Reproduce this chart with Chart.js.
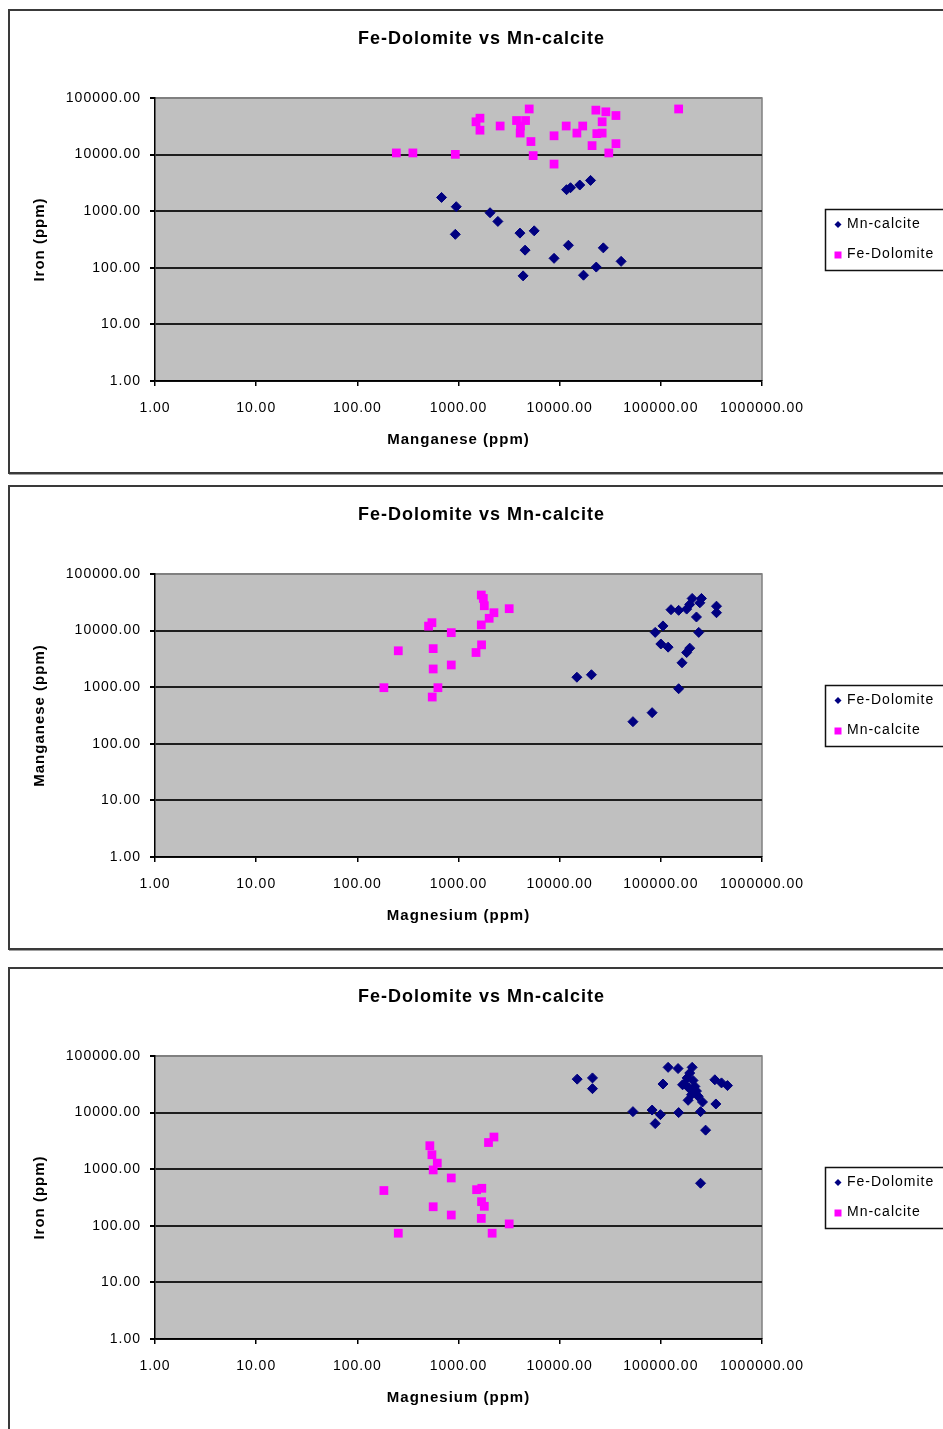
<!DOCTYPE html>
<html>
<head>
<meta charset="utf-8">
<script src="https://cdn.jsdelivr.net/npm/chart.js@4/dist/chart.umd.min.js"></script>
<style>
  html, body { margin: 0; padding: 0; background: #fff; overflow: hidden; width: 943px; height: 1429px; }
  .panel { position: absolute; left: 8px; width: 960px; height: 465px; box-sizing: border-box;
           border: 2px solid #3a3a3a; background: #fff; box-shadow: 1px 1px 0 #a0a0a0; }
  canvas { position: absolute; left: 0; }
</style>
</head>
<body>
<div class="panel" style="top:9px"></div>
<div class="panel" style="top:485px"></div>
<div class="panel" style="top:967px"></div>
<canvas id="c1" width="963" height="462" style="top:10px;width:963px;height:462px"></canvas>
<canvas id="c2" width="963" height="462" style="top:486px;width:963px;height:462px"></canvas>
<canvas id="c3" width="963" height="462" style="top:968px;width:963px;height:462px"></canvas>
<script>
// Shared text
const chartTitle = 'Fe-Dolomite vs Mn-calcite';
const xDecades = [1, 10, 100, 1000, 10000, 100000, 1000000];
const yDecades = [1, 10, 100, 1000, 10000, 100000];

// Chart 1: Manganese (x) vs Iron (y)
const c1Labels = ['Mn-calcite', 'Fe-Dolomite'];
const c1NavyMn = [20200, 15800, 12800, 11700, 680, 950, 2050, 2450, 930, 4050, 5600, 4550, 12200, 27000, 8800, 40500, 23000, 4350, 17200];
const c1NavyFe = [3500, 2900, 2600, 2400, 1750, 1200, 940, 660, 390, 410, 450, 205, 250, 225, 147, 130, 103, 72, 74];
const c1PinkMn = [5000, 22800, 28600, 150000, 36000, 26300, 1630, 1490, 1630, 2580, 3750, 4600, 4100, 4070, 5200, 8800, 11600, 14800, 16900, 23300, 26300, 20900, 36000, 30600, 243, 354, 930, 5470, 8800];
const c1PinkFe = [64000, 61000, 57000, 64000, 49000, 38000, 44000, 38000, 27000, 32000, 40000, 40000, 32000, 24000, 17000, 21500, 32000, 24000, 32000, 23500, 24000, 14400, 15600, 10700, 10700, 10700, 10100, 9600, 6800];

// Chart 2: Magnesium (x) vs Manganese (y)
const c2Labels = ['Fe-Dolomite', 'Mn-calcite'];
const c2NavyMg = [204000, 252000, 243000, 193000, 180000, 126000, 150000, 355000, 355000, 225000, 105000, 88000, 237000, 100000, 118000, 193000, 180000, 162000, 14800, 20600, 150000, 82000, 53000];
const c2NavyMn = [37000, 37000, 31000, 29000, 24000, 23400, 22800, 27000, 20700, 17400, 12100, 9300, 9300, 5800, 5100, 4900, 4100, 2700, 1500, 1660, 940, 355, 246];
const c2PinkMg = [1680, 1760, 1800, 3170, 2240, 2010, 1680, 546, 506, 848, 1690, 1490, 562, 254, 848, 562, 183, 626, 550];
const c2PinkMn = [42500, 37000, 27500, 24400, 20700, 16500, 12600, 13800, 12000, 9200, 5600, 4100, 4800, 4400, 2470, 2100, 980, 980, 670];

// Chart 3: Magnesium (x) vs Iron (y)
const c3Labels = ['Fe-Dolomite', 'Mn-calcite'];
const c3NavyMg = [118000, 148000, 204000, 193000, 182000, 208000, 342000, 398000, 456000, 105000, 164000, 190000, 225000, 234000, 186000, 258000, 350000, 14900, 21100, 21100, 53000, 82000, 99000, 88000, 150000, 247000, 277000, 247000, 172000, 217000, 201000];
const c3NavyFe = [63000, 60000, 63000, 50000, 41000, 37000, 38000, 33500, 30000, 32000, 31000, 27000, 24000, 19400, 16500, 15400, 14200, 39000, 41000, 26500, 10400, 11100, 9200, 6400, 10000, 10400, 4900, 565, 32000, 29000, 20700];
const c3PinkMg = [2240, 1980, 521, 546, 617, 562, 848, 183, 1510, 1700, 1690, 1800, 562, 848, 1680, 3170, 254, 2150];
const c3PinkFe = [3700, 2960, 2600, 1800, 1280, 970, 700, 420, 435, 460, 267, 221, 217, 155, 135, 108, 74, 74];

const NAVY = '#000080';
const PINK = '#FF00FF';
const FONT = "'Liberation Sans', Arial, sans-serif";
Chart.defaults.font.family = FONT;
Chart.defaults.color = '#000';

// Slightly spaced lettering for all chart text
const letterSpacing = {
  id: 'letterSpacing',
  beforeLayout(chart) { chart.ctx.letterSpacing = '1px'; },
  beforeDraw(chart) { chart.ctx.letterSpacing = '1px'; }
};

// Grey plot area with a thin grey frame on top/right
const plotBackground = {
  id: 'plotBackground',
  beforeDraw(chart) {
    const { ctx, chartArea: a } = chart;
    ctx.save();
    ctx.fillStyle = '#c0c0c0';
    ctx.fillRect(a.left, a.top, a.right - a.left, a.bottom - a.top);
    ctx.strokeStyle = '#808080';
    ctx.lineWidth = 1.5;
    ctx.beginPath();
    ctx.moveTo(a.left, a.top);
    ctx.lineTo(a.right, a.top);
    ctx.lineTo(a.right, a.bottom);
    ctx.stroke();
    ctx.restore();
  }
};

// Framed legend to the right of the plot
const boxLegend = {
  id: 'boxLegend',
  afterDraw(chart) {
    const { ctx, chartArea: a } = chart;
    const left = Math.round(a.right + 63);
    const top = Math.round((a.top + a.bottom) / 2 - 30.5);
    ctx.save();
    ctx.fillStyle = '#fff';
    ctx.fillRect(left, top, 160, 61);
    ctx.strokeStyle = '#111';
    ctx.lineWidth = 1.5;
    ctx.strokeRect(left + 0.5, top + 0.5, 160, 61);
    chart.data.datasets.forEach((ds, i) => {
      const y = top + 15.5 + i * 30;
      const x = left + 13;
      ctx.fillStyle = ds.backgroundColor;
      ctx.beginPath();
      if (ds.pointStyle === 'rectRot') {
        ctx.moveTo(x - 3.5, y); ctx.lineTo(x, y - 3.5); ctx.lineTo(x + 3.5, y); ctx.lineTo(x, y + 3.5);
        ctx.closePath();
      } else {
        ctx.rect(x - 3.5, y - 3, 7, 7);
      }
      ctx.fill();
      ctx.fillStyle = '#000';
      ctx.font = '14px ' + FONT;
      ctx.textBaseline = 'middle';
      ctx.textAlign = 'left';
      ctx.fillText(ds.label, left + 22, y);
    });
    ctx.restore();
  }
};

const fmt = v => Number(v).toFixed(2);
const toPoints = (xs, ys) => xs.map((x, i) => ({ x: x, y: ys[i] }));

function makeChart(id, labels, xTitle, yTitle, navyX, navyY, pinkX, pinkY) {
  return new Chart(document.getElementById(id), {
    type: 'scatter',
    data: {
      datasets: [
        { label: labels[0], data: toPoints(navyX, navyY), pointStyle: 'rectRot', pointRadius: 5,
          backgroundColor: NAVY, borderColor: NAVY, borderWidth: 1 },
        { label: labels[1], data: toPoints(pinkX, pinkY), pointStyle: 'rect', pointRadius: 6.2,
          backgroundColor: PINK, borderColor: PINK, borderWidth: 0 }
      ]
    },
    options: {
      responsive: false,
      animation: false,
      devicePixelRatio: 1,
      layout: { padding: 0 },
      plugins: {
        legend: { display: false },
        tooltip: { enabled: false },
        title: { display: true, text: chartTitle, color: '#000',
                 font: { size: 18, weight: 'bold' }, padding: { top: 18.2, bottom: 48.2 } }
      },
      scales: {
        x: {
          type: 'logarithmic', position: 'bottom',
          min: xDecades[0], max: xDecades[xDecades.length - 1],
          afterBuildTicks: s => { s.ticks = xDecades.map(v => ({ value: v })); },
          afterFit: s => { s.height = 91; },
          ticks: { color: '#000', font: { size: 14 }, padding: 13.6, maxRotation: 0, minRotation: 0,
                   autoSkip: false, callback: fmt },
          grid: { drawOnChartArea: false, drawTicks: true, tickLength: 5, tickColor: '#000', lineWidth: 1.5 },
          border: { display: true, color: '#000', width: 1.5 },
          title: { display: true, text: xTitle, color: '#000', font: { size: 15, weight: 'bold' },
                   padding: { top: 0, bottom: 23 } }
        },
        y: {
          type: 'logarithmic', position: 'left',
          min: yDecades[0], max: yDecades[yDecades.length - 1],
          afterBuildTicks: s => { s.ticks = yDecades.map(v => ({ value: v })); },
          afterFit: s => { s.width = 155; },
          ticks: { color: '#000', font: { size: 14 }, padding: 9, autoSkip: false, callback: fmt },
          grid: {
            color: c => (c.tick && c.tick.value === yDecades[yDecades.length - 1]) ? '#808080' : '#1e1e1e',
            lineWidth: 2, drawTicks: true, tickLength: 5, tickColor: '#000'
          },
          border: { display: true, color: '#000', width: 1.5 },
          title: { display: true, text: yTitle, color: '#000', font: { size: 15, weight: 'bold' },
                   padding: { top: 31, bottom: 0 } }
        },
        legendSpace: {
          axis: 'y', type: 'linear', position: 'right', display: true,
          ticks: { display: false }, grid: { display: false }, border: { display: false },
          afterFit: s => { s.width = 201; }
        }
      }
    },
    plugins: [letterSpacing, plotBackground, boxLegend]
  });
}

makeChart('c1', c1Labels, 'Manganese (ppm)', 'Iron (ppm)', c1NavyMn, c1NavyFe, c1PinkMn, c1PinkFe);
makeChart('c2', c2Labels, 'Magnesium (ppm)', 'Manganese (ppm)', c2NavyMg, c2NavyMn, c2PinkMg, c2PinkMn);
makeChart('c3', c3Labels, 'Magnesium (ppm)', 'Iron (ppm)', c3NavyMg, c3NavyFe, c3PinkMg, c3PinkFe);
</script>
</body>
</html>
